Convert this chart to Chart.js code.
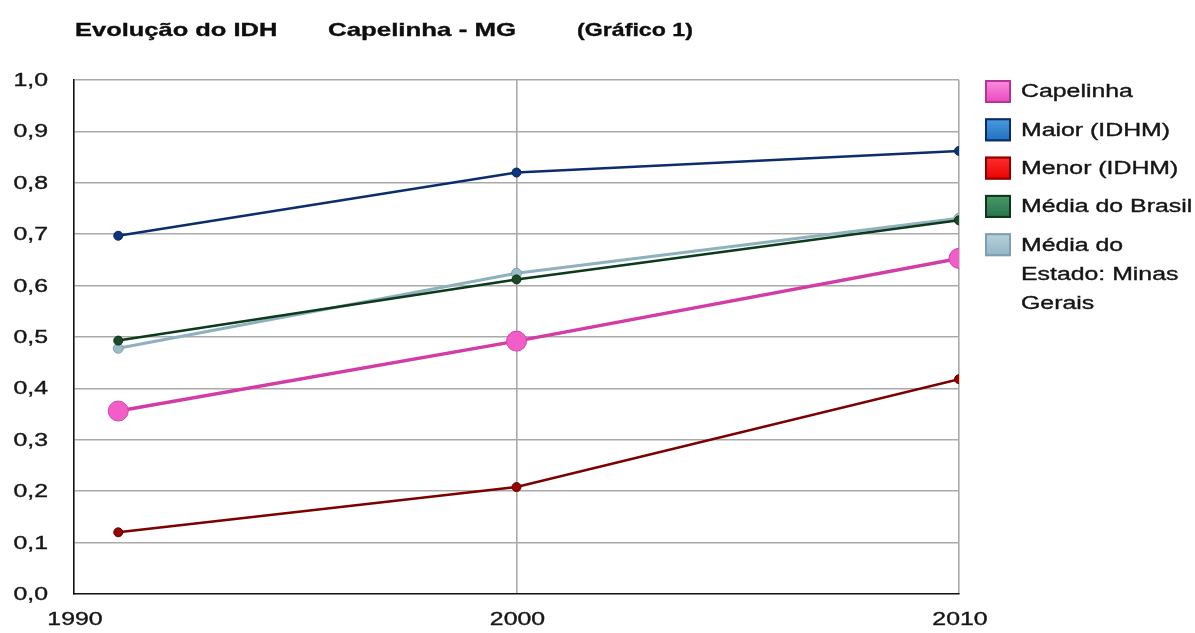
<!DOCTYPE html>
<html lang="pt-BR">
<head>
<meta charset="utf-8">
<title>Evolução do IDH – Capelinha - MG</title>
<script src="https://cdn.jsdelivr.net/npm/chart.js@4/dist/chart.umd.min.js"></script>
<style>
  html, body { margin: 0; padding: 0; background: #ffffff; }
  #wrap { width: 1195px; height: 633px; }
</style>
</head>
<body>
<div id="wrap"><canvas id="chart" width="1195" height="633"></canvas></div>
<script>
// Anos censitários e IDHM de cada série
const years = [1991, 2000, 2010];
const capelinha = [0.356, 0.492, 0.653];
const maiorIDHM = [0.697, 0.820, 0.862];
const menorIDHM = [0.120, 0.208, 0.418];
const mediaBrasil = [0.493, 0.612, 0.727];
const mediaMG = [0.478, 0.624, 0.731];

const seriesNames = ['Capelinha', 'Maior (IDHM)', 'Menor (IDHM)', 'Média do Brasil', 'Média do Estado: Minas Gerais'];
const titleParts = ['Evolução do IDH', 'Capelinha - MG', '(Gráfico 1)'];
const xTickValues = [1990, 2000, 2010];

// Visual style for each series: line, point and legend swatch
const styles = [
  { line: '#d23ca6', width: 3.5, radius: 10, point: '#f25dc8', pointBorder: '#d443ab', top: '#fb8ddf', bottom: '#e948bd', edge: '#b53396' },
  { line: '#0c2d6c', width: 2.5, radius: 4.5, point: '#0d347e', pointBorder: '#0a2659', top: '#4a9be0', bottom: '#1f6fbf', edge: '#0b2b66' },
  { line: '#7d0000', width: 2.5, radius: 4.5, point: '#9a0000', pointBorder: '#6a0000', top: '#ff3030', bottom: '#e80000', edge: '#8a0000' },
  { line: '#0c3a1a', width: 2.5, radius: 4.5, point: '#1a4a29', pointBorder: '#0b3018', top: '#4a9a68', bottom: '#25744a', edge: '#0d361c' },
  { line: '#8fb1bf', width: 3, radius: 5, point: '#9dbcc8', pointBorder: '#7fa1b0', top: '#b6d1dc', bottom: '#93b5c4', edge: '#7f9fae' }
];

const seriesValues = [capelinha, maiorIDHM, menorIDHM, mediaBrasil, mediaMG];

// Text is drawn with a wide, horizontally stretched Arial look
const SX = 1.38;
const TEXT_COLOR = '#151515';

function stretchText(ctx, text, x, y, align, font, color, sx) {
  const s = sx || SX;
  ctx.save();
  ctx.font = font;
  ctx.fillStyle = color;
  ctx.strokeStyle = color;
  ctx.lineWidth = 0.35;
  ctx.textBaseline = 'middle';
  ctx.textAlign = 'left';
  const w = ctx.measureText(text).width * s;
  let x0 = x;
  if (align === 'right') x0 = x - w;
  else if (align === 'center') x0 = x - w / 2;
  ctx.translate(x0, y);
  ctx.scale(s, 1);
  ctx.fillText(text, 0, 0);
  ctx.strokeText(text, 0, 0);
  ctx.restore();
  return w;
}

function wrapWords(ctx, text, font, maxWidth) {
  ctx.save();
  ctx.font = font;
  const words = text.split(' ');
  const lines = [];
  let cur = '';
  for (const w of words) {
    const test = cur ? cur + ' ' + w : w;
    if (ctx.measureText(test).width * SX > maxWidth && cur) {
      lines.push(cur);
      cur = w;
    } else {
      cur = test;
    }
  }
  if (cur) lines.push(cur);
  ctx.restore();
  return lines;
}

const FONT_REG = '18px "Liberation Sans", Arial, sans-serif';
const FONT_TITLE = 'bold 19px "Liberation Sans", Arial, sans-serif';

// Draws title, tick labels and the legend on top of the chart
const decorations = {
  id: 'decorations',
  afterDraw(chart) {
    const ctx = chart.ctx;
    const area = chart.chartArea;

    // Title
    stretchText(ctx, titleParts[0], area.left + 1, 31, 'left', FONT_TITLE, '#0e0e0e', 1.34);
    stretchText(ctx, titleParts[1], area.left + 254, 31, 'left', FONT_TITLE, '#0e0e0e', 1.36);
    stretchText(ctx, titleParts[2], area.left + 503, 31, 'left', FONT_TITLE, '#0e0e0e', 1.22);

    // Y tick labels (comma decimals)
    const ys = chart.scales.y;
    ys.ticks.forEach(t => {
      const py = ys.getPixelForValue(t.value);
      const label = t.value.toFixed(1).replace('.', ',');
      stretchText(ctx, label, area.left - 26, py + 1, 'right', FONT_REG, TEXT_COLOR);
    });

    // X tick labels
    const xs = chart.scales.x;
    xs.ticks.forEach(t => {
      const px = xs.getPixelForValue(t.value);
      stretchText(ctx, String(t.value), px + 1, area.bottom + 26, 'center', FONT_REG, TEXT_COLOR);
    });

    // Legend
    const boxX = area.right + 26;
    const textX = area.right + 62;
    const maxW = chart.width - textX;
    let y = 91.5;
    chart.data.datasets.forEach((ds, i) => {
      const st = styles[i];
      const bw = 26, bh = 23;
      const g = ctx.createLinearGradient(0, y - bh / 2, 0, y + bh / 2);
      g.addColorStop(0, st.top);
      g.addColorStop(1, st.bottom);
      ctx.save();
      ctx.fillStyle = g;
      ctx.fillRect(boxX, y - bh / 2, bw, bh);
      ctx.strokeStyle = st.edge;
      ctx.lineWidth = 2;
      ctx.strokeRect(boxX + 1, y - bh / 2 + 1, bw - 2, bh - 2);
      ctx.restore();
      const lines = wrapWords(ctx, ds.label, FONT_REG, maxW);
      lines.forEach((ln, k) => {
        stretchText(ctx, ln, textX, y + 1 + k * 29, 'left', FONT_REG, TEXT_COLOR);
      });
      y += 38.3 + (lines.length - 1) * 29;
    });
  }
};

const datasets = seriesNames.map((name, i) => ({
  label: name,
  data: years.map((yr, k) => ({ x: yr, y: seriesValues[i][k] })),
  borderColor: styles[i].line,
  borderWidth: styles[i].width,
  pointRadius: styles[i].radius,
  pointBackgroundColor: styles[i].point,
  pointBorderColor: styles[i].pointBorder,
  pointBorderWidth: 1,
  pointHoverRadius: styles[i].radius,
  tension: 0,
  fill: false
}));

new Chart(document.getElementById('chart'), {
  type: 'line',
  data: { datasets },
  plugins: [decorations],
  options: {
    responsive: false,
    animation: false,
    events: [],
    layout: { padding: { left: 74, right: 236, top: 80, bottom: 39 } },
    plugins: {
      legend: { display: false },
      title: { display: false },
      tooltip: { enabled: false }
    },
    scales: {
      x: {
        type: 'linear',
        min: 1990,
        max: 2010,
        afterBuildTicks(scale) {
          scale.ticks = xTickValues.map(v => ({ value: v }));
        },
        afterFit(scale) { scale.height = 0; },
        ticks: { display: false },
        grid: {
          drawTicks: false,
          tickLength: 0,
          lineWidth: 1.6,
          color: c => (c.tick && c.tick.value === 1990) ? 'rgba(0,0,0,0)' : '#a9a9a9'
        },
        border: { display: true, color: '#111', width: 1.6 }
      },
      y: {
        min: 0,
        max: 1,
        ticks: { display: false, stepSize: 0.1 },
        afterFit(scale) { scale.width = 0; },
        grid: {
          drawTicks: false,
          tickLength: 0,
          lineWidth: 1.6,
          color: c => (c.tick && Math.abs(c.tick.value) < 1e-9) ? 'rgba(0,0,0,0)' : '#a9a9a9'
        },
        border: { display: true, color: '#111', width: 1.6 }
      }
    }
  }
});
</script>
</body>
</html>
